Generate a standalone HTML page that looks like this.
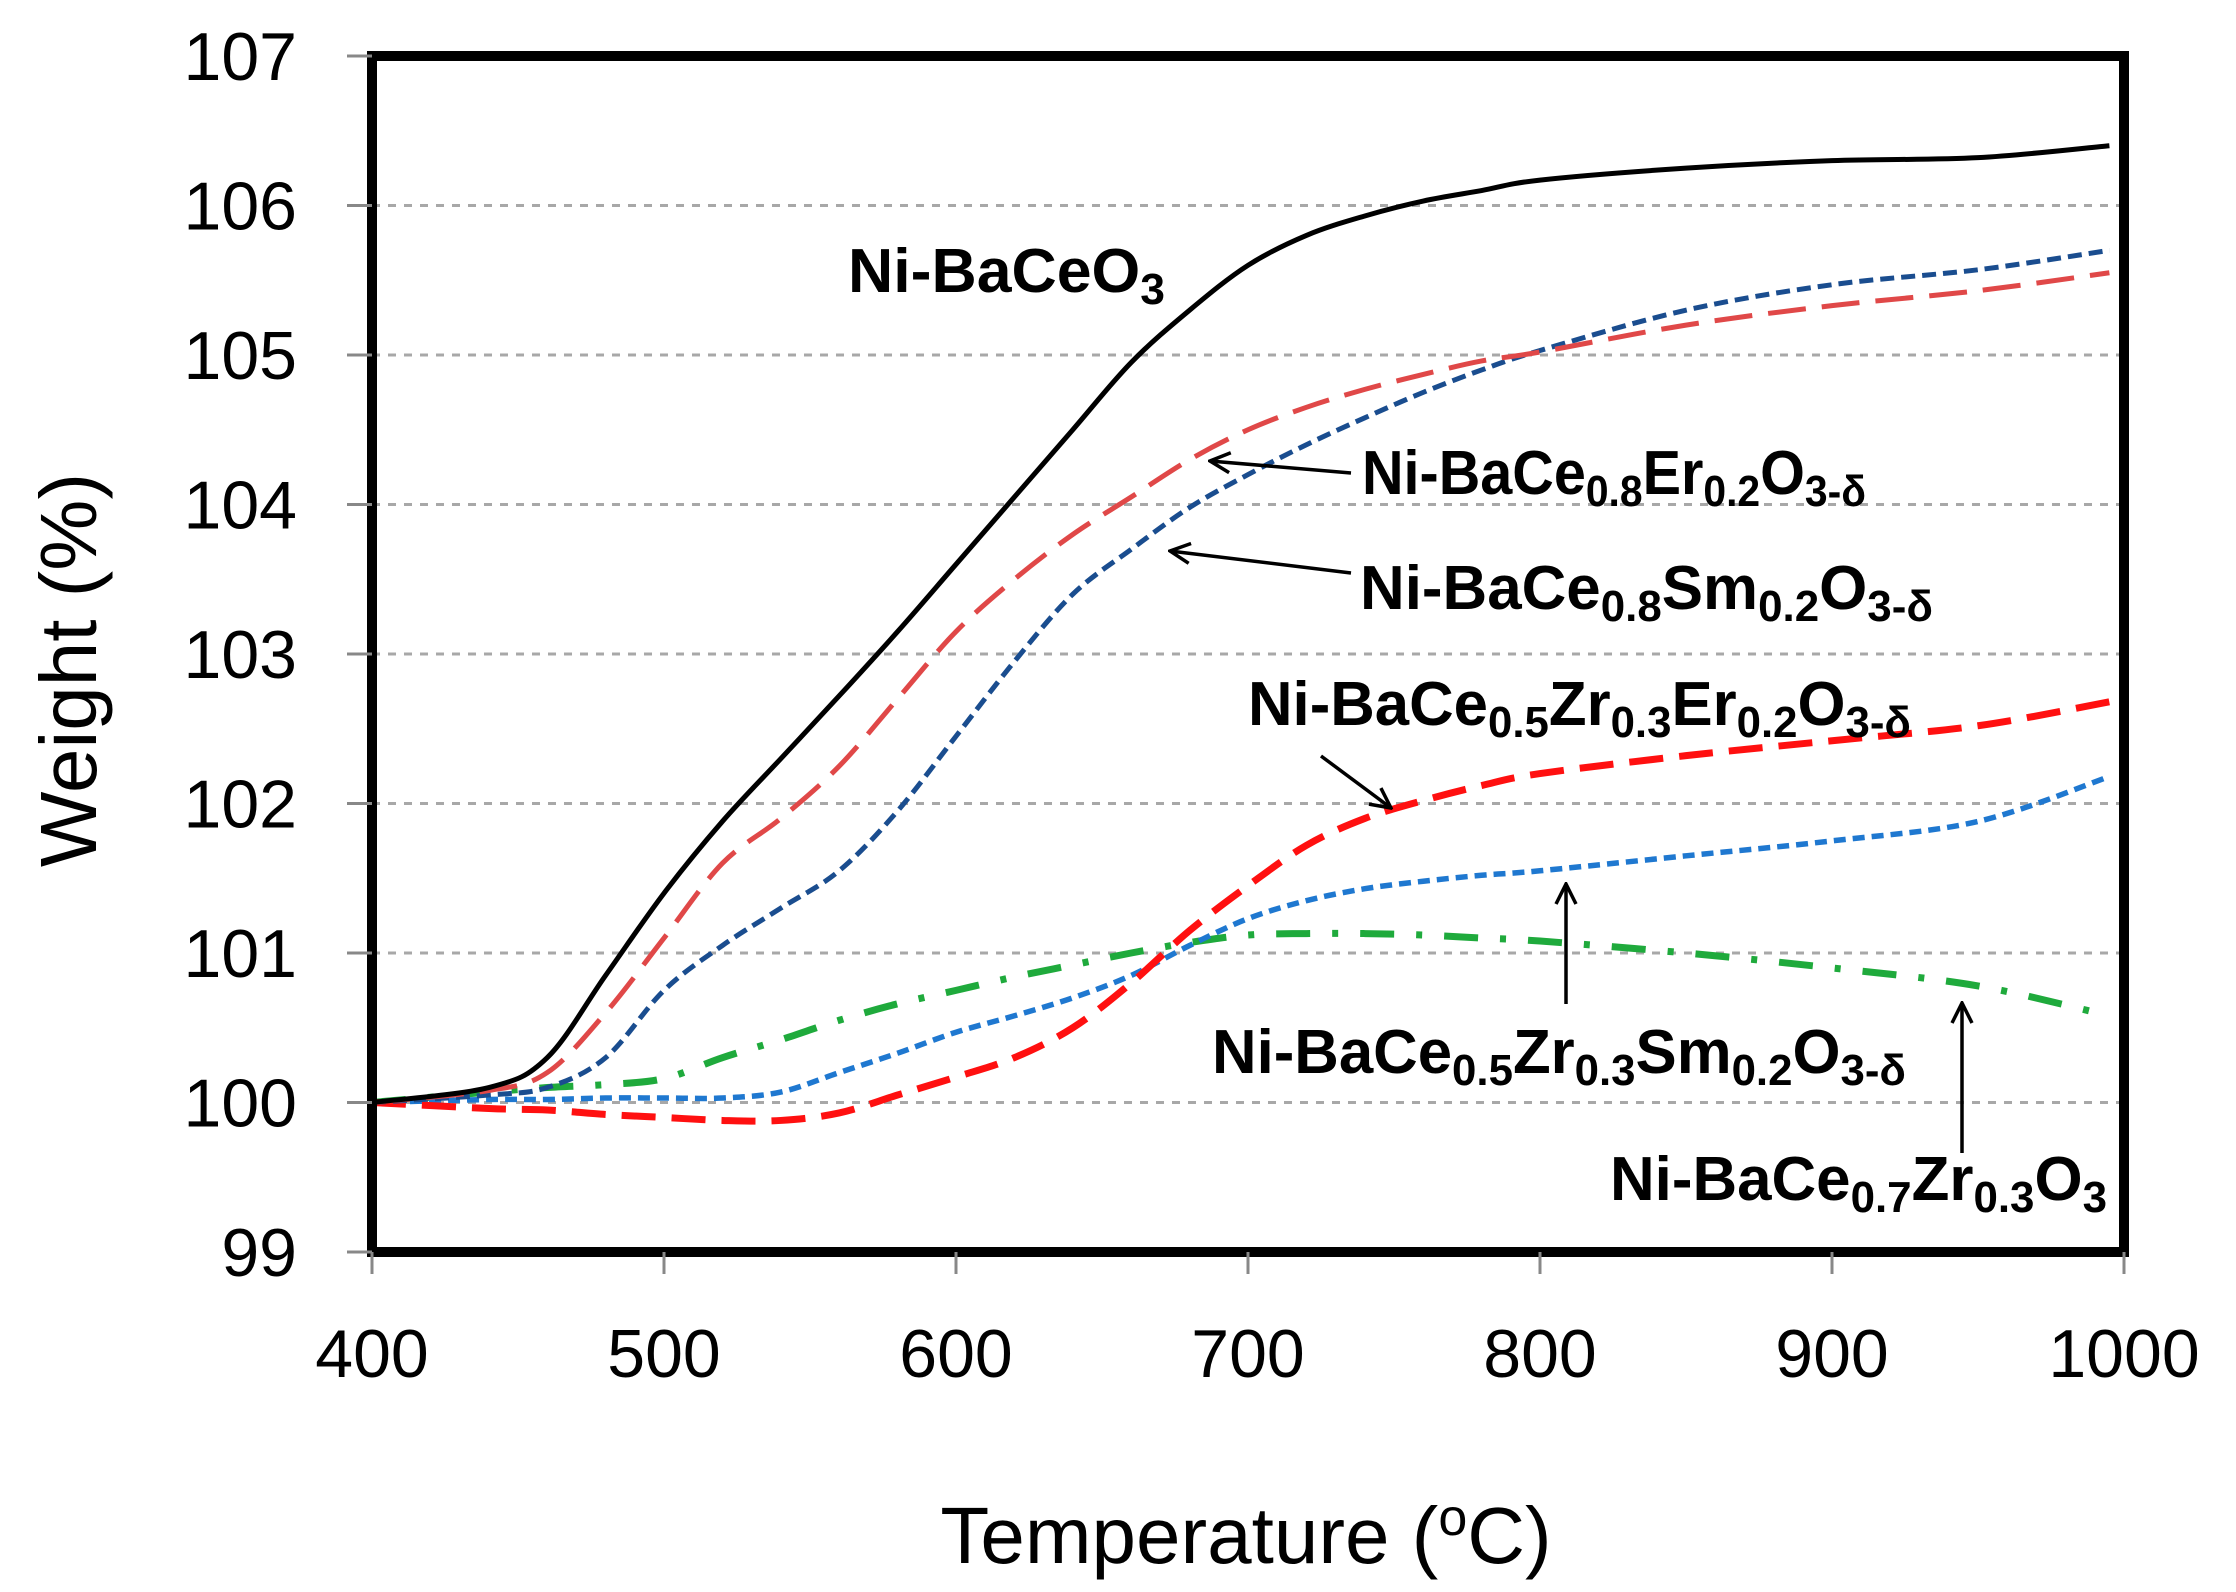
<!DOCTYPE html>
<html><head><meta charset="utf-8"><style>
html,body{margin:0;padding:0;background:#fff;}
svg{display:block;}
text{font-family:"Liberation Sans",sans-serif;}
.lbl{font-family:"Liberation Sans Narrow","Liberation Sans",sans-serif;font-weight:bold;font-size:62px;fill:#000;}
</style></head><body>
<svg id="chart" width="2236" height="1592" viewBox="0 0 2236 1592">
<defs>
<marker id="ahs" viewBox="0 0 24 24" markerWidth="24" markerHeight="24" refX="22" refY="12" orient="auto" markerUnits="userSpaceOnUse"><path d="M2,2 L22,12 L2,22" fill="none" stroke="#000" stroke-width="3.5"/></marker>
<clipPath id="clipx"><rect x="0" y="0" width="2212" height="1592"/></clipPath></defs>
<g id="grid"></g>
<g id="series"></g>
<rect x="372" y="56" width="1752" height="1196" fill="none" stroke="#000" stroke-width="10"/>
<g id="axes" clip-path="url(#clipx)"></g>
<text x="75" y="670" font-size="80" text-anchor="middle" dominant-baseline="middle" transform="rotate(-90 75 670)">Weight (%)</text>
<text x="1246" y="1563" font-size="80" text-anchor="middle">Temperature (<tspan font-size="52" dy="-28">o</tspan><tspan dy="28">C)</tspan></text>

<text class="lbl" x="848" y="292" textLength="317" lengthAdjust="spacingAndGlyphs">Ni-BaCeO<tspan font-size="44" dy="12">3</tspan></text>
<text class="lbl" x="1362" y="494" textLength="504" lengthAdjust="spacingAndGlyphs">Ni-BaCe<tspan font-size="44" dy="12">0.8</tspan><tspan dy="-12">Er</tspan><tspan font-size="44" dy="12">0.2</tspan><tspan dy="-12">O</tspan><tspan font-size="44" dy="12">3-δ</tspan></text>
<text class="lbl" x="1360" y="609" textLength="573" lengthAdjust="spacingAndGlyphs">Ni-BaCe<tspan font-size="44" dy="12">0.8</tspan><tspan dy="-12">Sm</tspan><tspan font-size="44" dy="12">0.2</tspan><tspan dy="-12">O</tspan><tspan font-size="44" dy="12">3-δ</tspan></text>
<text class="lbl" x="1248" y="725" textLength="663" lengthAdjust="spacingAndGlyphs">Ni-BaCe<tspan font-size="44" dy="12">0.5</tspan><tspan dy="-12">Zr</tspan><tspan font-size="44" dy="12">0.3</tspan><tspan dy="-12">Er</tspan><tspan font-size="44" dy="12">0.2</tspan><tspan dy="-12">O</tspan><tspan font-size="44" dy="12">3-δ</tspan></text>
<text class="lbl" x="1212" y="1073" textLength="694" lengthAdjust="spacingAndGlyphs">Ni-BaCe<tspan font-size="44" dy="12">0.5</tspan><tspan dy="-12">Zr</tspan><tspan font-size="44" dy="12">0.3</tspan><tspan dy="-12">Sm</tspan><tspan font-size="44" dy="12">0.2</tspan><tspan dy="-12">O</tspan><tspan font-size="44" dy="12">3-δ</tspan></text>
<text class="lbl" x="1610" y="1200" textLength="497" lengthAdjust="spacingAndGlyphs">Ni-BaCe<tspan font-size="44" dy="12">0.7</tspan><tspan dy="-12">Zr</tspan><tspan font-size="44" dy="12">0.3</tspan><tspan dy="-12">O</tspan><tspan font-size="44" dy="12">3</tspan></text>

<g stroke="#000" stroke-width="3.5" fill="none">
<line x1="1351" y1="473" x2="1210" y2="461" marker-end="url(#ahs)"/>
<line x1="1351" y1="573" x2="1170" y2="551" marker-end="url(#ahs)"/>
<line x1="1321" y1="756" x2="1391" y2="808" marker-end="url(#ahs)"/>
<line x1="1566" y1="1004" x2="1566" y2="884" marker-end="url(#ahs)"/>
<line x1="1962" y1="1153" x2="1962" y2="1003" marker-end="url(#ahs)"/>
</g>
</svg>
<script>
const temps = [400,440,460,480,500,520,540,560,580,600,620,640,660,680,700,720,740,760,780,800,850,900,950,995];
const niBaCeO3 = [100,100.1,100.3,100.85,101.4,101.88,102.3,102.72,103.15,103.6,104.05,104.5,104.95,105.3,105.6,105.8,105.93,106.03,106.1,106.17,106.25,106.3,106.32,106.4];
const erDoped = [100,100.08,100.2,100.6,101.1,101.6,101.9,102.25,102.7,103.15,103.5,103.8,104.05,104.3,104.5,104.65,104.77,104.87,104.96,105.02,105.2,105.33,105.43,105.55];
const smDoped = [100,100.05,100.1,100.3,100.75,101.05,101.3,101.55,101.95,102.45,102.95,103.4,103.7,103.98,104.2,104.4,104.58,104.75,104.9,105.03,105.3,105.47,105.57,105.7];
const zrErDoped = [100,99.96,99.95,99.92,99.9,99.88,99.88,99.93,100.05,100.17,100.3,100.5,100.8,101.15,101.45,101.72,101.9,102.02,102.12,102.2,102.32,102.42,102.52,102.68];
const zrSmDoped = [100,100.02,100.02,100.03,100.03,100.03,100.07,100.2,100.33,100.47,100.58,100.7,100.85,101.05,101.23,101.35,101.43,101.48,101.52,101.55,101.65,101.75,101.88,102.18];
const zrDoped = [100,100.07,100.1,100.12,100.16,100.3,100.42,100.55,100.66,100.75,100.84,100.92,101.0,101.07,101.12,101.13,101.13,101.12,101.1,101.08,101.0,100.9,100.78,100.58];
const yTicks = [99,100,101,102,103,104,105,106,107];
const xTicks = [400,500,600,700,800,900,1000];

const NS="http://www.w3.org/2000/svg";
const X0=372,X1=2124,Y0=1252,Y1=56;
function xs(t){return X0+(t-400)/600*(X1-X0);}
function ys(v){return Y0-(v-99)/8*(Y0-Y1);}
function mk(tag,attrs,parent){const e=document.createElementNS(NS,tag);for(const k in attrs)e.setAttribute(k,attrs[k]);parent.appendChild(e);return e;}
const grid=document.getElementById('grid'),axes=document.getElementById('axes'),series=document.getElementById('series');
yTicks.forEach(v=>{
  if(v>99&&v<107){const g=mk('line',{x1:X0,x2:X1,y1:ys(v),y2:ys(v),stroke:'#a8a8a8','stroke-width':3,'stroke-dasharray':'8 8'},grid);
  
  }
  const t=mk('line',{x1:347,x2:X0,y1:ys(v),y2:ys(v),stroke:'#888','stroke-width':3},axes);
  
  
  const l=mk('text',{x:297,y:ys(v)+24,'font-size':68,'text-anchor':'end'},axes);l.textContent=v;
  
  
});
xTicks.forEach(v=>{
  const t=mk('line',{x1:xs(v),x2:xs(v),y1:Y0,y2:Y0+22,stroke:'#888','stroke-width':3},axes);
  
  
  const l=mk('text',{x:xs(v),y:1377,'font-size':68,'text-anchor':'middle'},axes);l.textContent=v;
  
  
});
function pathD(vals){
  const p=temps.map((t,i)=>[xs(t),ys(vals[i])]);
  let d='M'+p[0][0]+','+p[0][1];
  for(let i=0;i<p.length-1;i++){
    const a=p[Math.max(0,i-1)],b=p[i],c=p[i+1],e=p[Math.min(p.length-1,i+2)];
    const c1=[b[0]+(c[0]-a[0])/6,b[1]+(c[1]-a[1])/6],c2=[c[0]-(e[0]-b[0])/6,c[1]-(e[1]-b[1])/6];
    d+=' C'+c1[0]+','+c1[1]+' '+c2[0]+','+c2[1]+' '+c[0]+','+c[1];
  }
  return d;
}
const defs=[
 [zrDoped,'#1faa3c',7,'34 22 6 22','series-ni-bace07zr03o3'],
 [zrSmDoped,'#1f78d0',5.5,'12 7','series-ni-bace05zr03sm02'],
 [zrErDoped,'#ff1010',7,'34 16','series-ni-bace05zr03er02'],
 [smDoped,'#1a4d8f',5,'14 7','series-ni-bace08sm02'],
 [erDoped,'#e04848',5,'38 16','series-ni-bace08er02'],
 [niBaCeO3,'#000',5,'','series-ni-baceo3']];
defs.forEach(([vals,col,w,da,name])=>{
  const p=mk('path',{d:pathD(vals),fill:'none',stroke:col,'stroke-width':w,'stroke-dasharray':da},series);
  
  
});
</script>
</body></html>
